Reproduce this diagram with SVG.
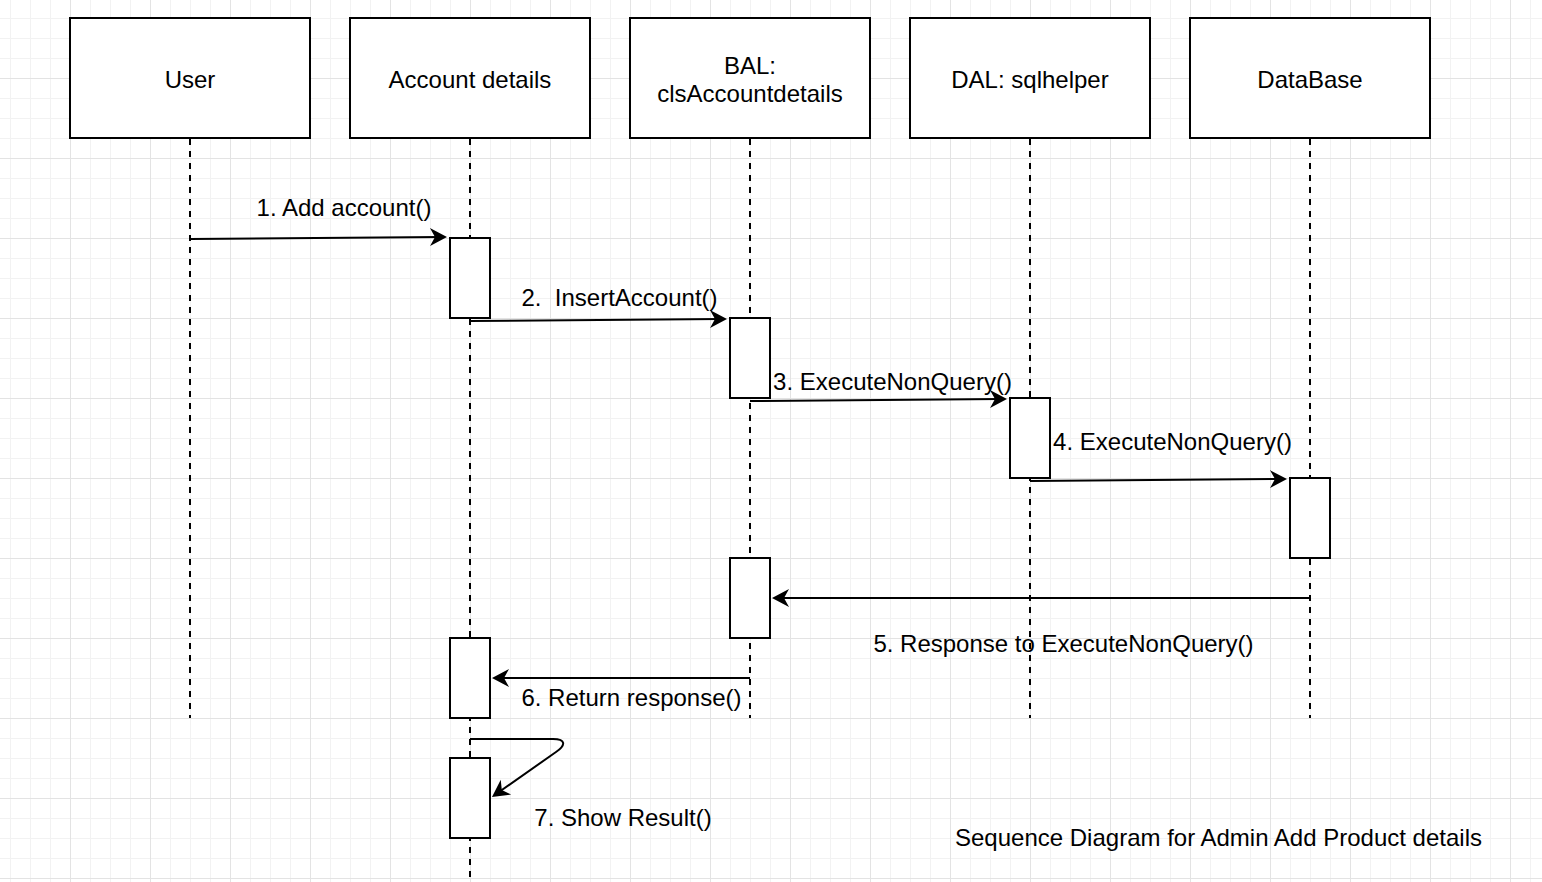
<svg xmlns="http://www.w3.org/2000/svg" width="1542" height="882" viewBox="0 0 1542 882">
<style>
.box{fill:#fff;stroke:#000;stroke-width:2}
.act{fill:#fff;stroke:#000;stroke-width:2}
.life{stroke:#000;stroke-width:2;stroke-dasharray:6 6;fill:none}
.msg{stroke:#000;stroke-width:2;fill:none;marker-end:url(#arr)}
text{font-family:"Liberation Sans",Arial,Helvetica,sans-serif;font-size:24px;fill:#000;white-space:pre}
.c{text-anchor:middle}
</style>
<defs>
<pattern id="minor" patternUnits="userSpaceOnUse" x="10" y="18" width="20" height="20">
<path d="M0.5,0 V20 M0,0.5 H20" stroke="#f2f2f2" stroke-width="1" fill="none"/>
</pattern>
<pattern id="major" patternUnits="userSpaceOnUse" x="70" y="78" width="80" height="80">
<path d="M0.5,0 V80 M0,0.5 H80" stroke="#e3e3e3" stroke-width="1" fill="none"/>
</pattern>
<marker id="arr" markerUnits="userSpaceOnUse" viewBox="-12 -10 20 20" refX="0" refY="0" markerWidth="20" markerHeight="20" orient="auto">
<path d="M6,0 L-11,-9 L-6,0 L-11,9 Z" fill="#000"/>
</marker>
</defs>
<rect width="1542" height="882" fill="#fff"/>
<rect width="1542" height="882" fill="url(#minor)"/>
<rect width="1542" height="882" fill="url(#major)"/>

<g id="lifelines">
<line class="life" x1="190" y1="139" x2="190" y2="718"/>
<line class="life" x1="470" y1="139" x2="470" y2="882"/>
<line class="life" x1="750" y1="139" x2="750" y2="718"/>
<line class="life" x1="1030" y1="139" x2="1030" y2="718"/>
<line class="life" x1="1310" y1="139" x2="1310" y2="718"/>
</g>

<g id="user"><rect class="box" x="70" y="18" width="240" height="120"/><text class="c" x="190" y="88">User</text></g>
<g id="account-details"><rect class="box" x="350" y="18" width="240" height="120"/><text class="c" x="470" y="88">Account details</text></g>
<g id="bal"><rect class="box" x="630" y="18" width="240" height="120"/><text class="c" x="750" y="74">BAL:</text><text class="c" x="750" y="102">clsAccountdetails</text></g>
<g id="dal"><rect class="box" x="910" y="18" width="240" height="120"/><text class="c" x="1030" y="88">DAL: sqlhelper</text></g>
<g id="database"><rect class="box" x="1190" y="18" width="240" height="120"/><text class="c" x="1310" y="88">DataBase</text></g>

<g id="activations">
<rect class="act" x="450" y="238" width="40" height="80"/>
<rect class="act" x="730" y="318" width="40" height="80"/>
<rect class="act" x="1010" y="398" width="40" height="80"/>
<rect class="act" x="1290" y="478" width="40" height="80"/>
<rect class="act" x="730" y="558" width="40" height="80"/>
<rect class="act" x="450" y="638" width="40" height="80"/>
<rect class="act" x="450" y="758" width="40" height="80"/>
</g>

<g id="connectors">
<path class="msg" d="M190,239 L441,237"/>
<path class="msg" d="M470,321 L721,319"/>
<path class="msg" d="M750,401 L1001,399"/>
<path class="msg" d="M1030,481 L1281,479"/>
<path class="msg" d="M1310,598 L778,598"/>
<path class="msg" d="M750,678 L498,678"/>
<path class="msg" d="M470,739 L553,739 C566,739 566,745 556,752 L496.9,793.5"/>
</g>

<g id="labels">
<text class="c" x="344" y="216">1. Add account()</text>
<text class="c" x="619.5" y="306">2.  InsertAccount()</text>
<text class="c" x="892.5" y="390">3. ExecuteNonQuery()</text>
<text class="c" x="1172.5" y="450">4. ExecuteNonQuery()</text>
<text class="c" x="1063.5" y="652">5. Response to ExecuteNonQuery()</text>
<text class="c" x="631.5" y="706">6. Return response()</text>
<text class="c" x="623" y="826">7. Show Result()</text>
<text class="c" x="1218.5" y="846">Sequence Diagram for Admin Add Product details</text>
</g>
</svg>
